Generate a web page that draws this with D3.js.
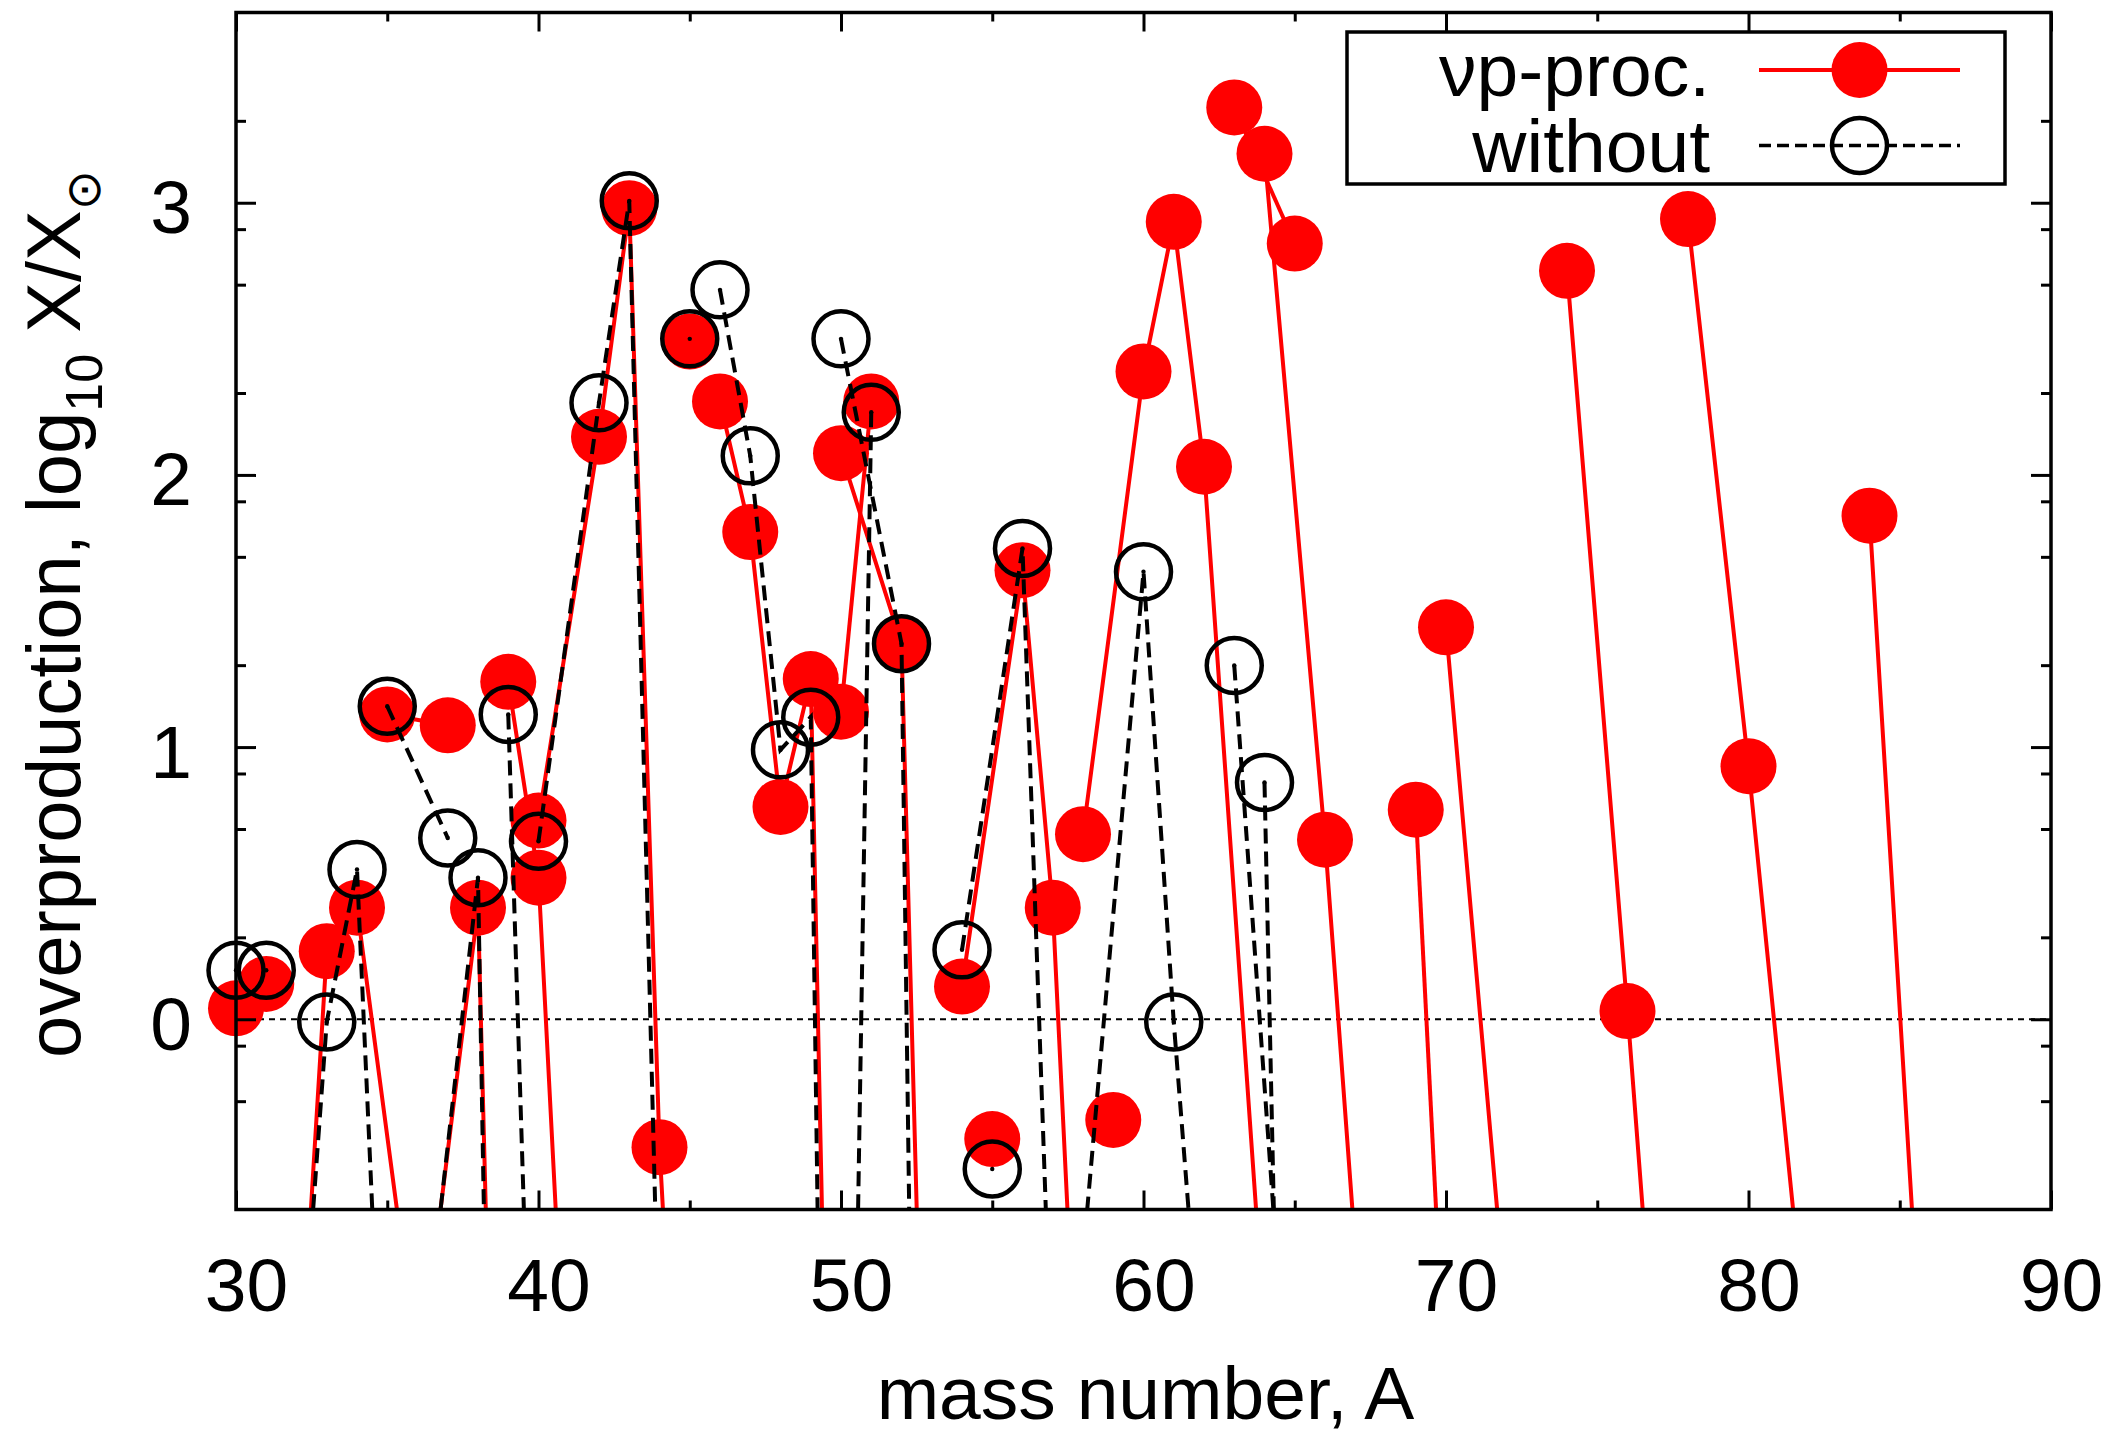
<!DOCTYPE html>
<html>
<head>
<meta charset="utf-8">
<script src="https://cdn.jsdelivr.net/npm/d3@7"></script>
<style>
body { margin: 0; background: #fff; }
svg { display: block; font-family: "Liberation Sans", Arial, Helvetica, sans-serif; }
</style>
</head>
<body>
<svg id="chart"></svg>
<script>
// nu-p process run: log10 overproduction per stable isotope
const vpElement = ["Si","P","S","S","S","S","Cl","Cl","Ar","Ar","Ar","K","K","K",
	"Ca","Ca","Ca","Ca","Ca","Ca","Sc","Ti","Ti","Ti","Ti","Ti","V","V","Cr","Cr","Cr","Cr",
	"Mn","Fe","Fe","Fe","Fe","Co","Ni","Ni","Ni","Ni","Ni","Cu","Cu","Zn","Zn","Zn","Zn","Zn",
	"Ga","Ga","Ge","Ge","Ge","Ge","Ge","Se","Se","Se","Se","Se","Se","Kr","Kr","Kr","Kr","Kr","Kr",
	"Sr","Sr","Sr","Sr"];
const vpMass = [30,31,32,33,34,36,35,37,36,38,40,39,40,41,
	40,42,43,44,46,48,45,46,47,48,49,50,50,51,50,52,53,54,
	55,54,56,57,58,59,58,60,61,62,64,63,65,64,66,67,68,70,
	69,71,70,72,73,74,76,74,76,77,78,80,82,78,80,82,83,84,86,
	84,86,87,88];
const vpValue = [0.04,0.13,-1.56,0.25,0.41,-1.27,1.12,1.08,-1.38,0.41,-8.2,1.24,0.52,-1.62,
	0.73,2.14,2.98,-0.47,-4.5,-3.0,2.49,2.27,1.79,0.78,1.25,-4.0,1.13,2.27,2.08,1.38,-2.75,-2.0,
	-0.44,0.12,1.65,0.41,-1.87,-0.37,0.68,2.38,2.93,2.03,-1.14,3.35,2.85,3.18,0.66,-0.84,-1.5,-2.6,
	0.77,-3.6,1.44,-1.09,-1.6,-1.3,-2.2,2.75,0.03,-1.42,-1.6,-2.0,-3.0,2.94,0.93,-1.28,-1.6,-1.3,-2.4,
	1.85,-1.78,-2.2,-2.0];

// run without neutrinos
const woElement = ["Si","P","S","S","S","S","Cl","Cl","Ar","Ar","Ar","K","K","K",
	"Ca","Ca","Ca","Ca","Ca","Ca","Sc","Ti","Ti","Ti","Ti","Ti","V","V","Cr","Cr","Cr",
	"Mn","Fe","Fe","Fe","Fe","Ni","Ni","Ni","Ni","Cu","Cu","Zn","Zn"];
const woMass = [30,31,32,33,34,36,35,37,36,38,40,39,40,41,
	40,42,43,44,46,48,45,46,47,48,49,50,50,51,50,52,53,
	55,54,56,57,58,58,60,61,62,63,65,64,66];
const woValue = [0.18,0.18,-1.54,-0.01,0.55,-4.4,1.15,0.666,-1.45,0.52,-12,1.12,-2.4,-3.0,
	0.654,2.265,3.007,-1.3,-4.0,-4.0,2.5,2.68,2.07,0.99,1.11,-6.9,-4.5,2.23,2.5,1.38,-6.8,
	-0.55,0.255,1.73,-1.42,-2.5,-0.875,1.644,-0.01,-1.42,1.30,-1.79,0.87,-9.3];

const xTicks = [30,40,50,60,70,80,90];
const xMinorTicks = [35,45,55,65,75,85];
const yTicks = [0,1,2,3];
const yMinorTicks = [-0.301,-0.097,0.301,0.699,0.903,1.301,1.699,1.903,2.301,2.699,2.903,3.301];
const legendLabels = ["\u03bdp-proc.","without"];

const width = 2116, height = 1437;
const margin = {left: 236, right: 65, top: 12.5, bottom: 227.5};
const plotW = width - margin.left - margin.right;
const plotH = height - margin.top - margin.bottom;

let svg = d3.select("#chart")
	.attr("width", width)
	.attr("height", height);

let x = d3.scaleLinear().domain([30, 90]).range([margin.left, margin.left + plotW]);
let y = d3.scaleLinear().domain([Math.log10(0.2), Math.log10(5000)])
	.range([margin.top + plotH, margin.top]);

svg.append("defs").append("clipPath").attr("id", "plotclip")
	.append("rect")
	.attr("x", margin.left).attr("y", margin.top)
	.attr("width", plotW).attr("height", plotH);

// zero line
svg.append("line")
	.attr("x1", x(30)).attr("x2", x(90))
	.attr("y1", y(0)).attr("y2", y(0))
	.attr("stroke", "#000").attr("stroke-width", 2)
	.attr("stroke-dasharray", "6,5");

function rows(el, A, v) {
	return el.map((e, i) => ({el: e, A: A[i], v: v[i]}));
}
let vpData = rows(vpElement, vpMass, vpValue);
let woData = rows(woElement, woMass, woValue);
let [yLo, yHi] = y.domain();
let inside = (d) => d.v >= yLo && d.v <= yHi && d.A >= 30 && d.A <= 90;

let line = d3.line().x((d) => x(d.A)).y((d) => y(d.v));

function chains(data) {
	return Array.from(d3.group(data, (d) => d.el).values())
		.map((c) => c.slice().sort((a, b) => a.A - b.A));
}

// nu-p: red solid + filled circles
let gvp = svg.append("g");
gvp.append("g").attr("clip-path", "url(#plotclip)")
	.selectAll("path")
	.data(chains(vpData).filter((c) => c.length > 1))
	.enter().append("path")
	.attr("d", line)
	.attr("fill", "none")
	.attr("stroke", "#ff0000")
	.attr("stroke-width", 4)
	.attr("stroke-linejoin", "round");
gvp.selectAll("circle")
	.data(vpData.filter(inside))
	.enter().append("circle")
	.attr("cx", (d) => x(d.A))
	.attr("cy", (d) => y(d.v))
	.attr("r", 28)
	.attr("fill", "#ff0000");

// without: black dashed + open circles
let gwo = svg.append("g");
gwo.append("g").attr("clip-path", "url(#plotclip)")
	.selectAll("path")
	.data(chains(woData).filter((c) => c.length > 1))
	.enter().append("path")
	.attr("d", line)
	.attr("fill", "none")
	.attr("stroke", "#000")
	.attr("stroke-width", 4)
	.attr("stroke-dasharray", "15,8");
gwo.selectAll("circle.ring")
	.data(woData.filter(inside))
	.enter().append("circle")
	.attr("class", "ring")
	.attr("cx", (d) => x(d.A))
	.attr("cy", (d) => y(d.v))
	.attr("r", 27.5)
	.attr("fill", "none")
	.attr("stroke", "#000")
	.attr("stroke-width", 4.5);
gwo.selectAll("circle.dot")
	.data(woData.filter(inside))
	.enter().append("circle")
	.attr("class", "dot")
	.attr("cx", (d) => x(d.A))
	.attr("cy", (d) => y(d.v))
	.attr("r", 2.2)
	.attr("fill", "#000");

// axes, ticks pointing inwards on all four sides
function styleAxis(g) {
	g.select(".domain").remove();
	g.selectAll(".tick line").attr("stroke", "#000").attr("stroke-width", 3);
	g.selectAll("text")
		.attr("fill", "#000")
		.style("font-size", "75px")
		.style("font-family", "\"Liberation Sans\", Arial, Helvetica, sans-serif");
}
let bottomY = margin.top + plotH, topY = margin.top;
let leftX = margin.left, rightX = margin.left + plotW;

svg.append("g").attr("transform", `translate(0,${bottomY})`)
	.call(d3.axisBottom(x).tickValues(xTicks).tickSize(-19).tickPadding(48).tickFormat(d3.format("d")))
	.call(styleAxis)
	.call((g) => g.selectAll("text").attr("dx", 10));
svg.append("g").attr("transform", `translate(0,${bottomY})`)
	.call(d3.axisBottom(x).tickValues(xMinorTicks).tickSize(-9).tickFormat(""))
	.call(styleAxis);
svg.append("g").attr("transform", `translate(0,${topY})`)
	.call(d3.axisTop(x).tickValues(xTicks).tickSize(-19).tickFormat(""))
	.call(styleAxis);
svg.append("g").attr("transform", `translate(0,${topY})`)
	.call(d3.axisTop(x).tickValues(xMinorTicks).tickSize(-9).tickFormat(""))
	.call(styleAxis);

svg.append("g").attr("transform", `translate(${leftX},0)`)
	.call(d3.axisLeft(y).tickValues(yTicks).tickSize(-20).tickPadding(44).tickFormat(d3.format("d")))
	.call(styleAxis)
	.call((g) => g.selectAll("text").attr("dy", "0.4em"));
svg.append("g").attr("transform", `translate(${leftX},0)`)
	.call(d3.axisLeft(y).tickValues(yMinorTicks).tickSize(-10).tickFormat(""))
	.call(styleAxis);
svg.append("g").attr("transform", `translate(${rightX},0)`)
	.call(d3.axisRight(y).tickValues(yTicks).tickSize(-20).tickFormat(""))
	.call(styleAxis);
svg.append("g").attr("transform", `translate(${rightX},0)`)
	.call(d3.axisRight(y).tickValues(yMinorTicks).tickSize(-10).tickFormat(""))
	.call(styleAxis);

svg.append("rect")
	.attr("x", leftX).attr("y", topY)
	.attr("width", plotW).attr("height", plotH)
	.attr("fill", "none").attr("stroke", "#000").attr("stroke-width", 3.5);

// axis titles
svg.append("text")
	.attr("x", (leftX + rightX) / 2 + 2)
	.attr("y", 1419)
	.attr("text-anchor", "middle")
	.style("font-size", "75px")
	.text("mass number, A");

let ylab = svg.append("text")
	.attr("transform", `translate(80,${(topY + bottomY) / 2 + 3}) rotate(-90)`)
	.attr("text-anchor", "middle")
	.style("font-size", "76px");
ylab.append("tspan").text("overproduction, log");
ylab.append("tspan").attr("dy", 22).style("font-size", "52px").text("10");
ylab.append("tspan").attr("dy", -22).text(" X/X");
ylab.append("tspan").attr("dy", 20).style("font-size", "48px")
	.style("font-family", "\"DejaVu Sans\", sans-serif").text("\u2299");

// legend
let leg = svg.append("g");
leg.append("rect")
	.attr("x", 1347).attr("y", 32)
	.attr("width", 658).attr("height", 152)
	.attr("fill", "#fff").attr("stroke", "#000").attr("stroke-width", 3.5);
let legRows = [
	{label: legendLabels[0], base: 96, ly: 70, color: "#ff0000", dash: null, filled: true},
	{label: legendLabels[1], base: 172, ly: 145.5, color: "#000", dash: "12,6", filled: false}
];
legRows.forEach(function(r) {
	leg.append("text")
		.attr("x", 1710).attr("y", r.base)
		.attr("text-anchor", "end")
		.style("font-size", "75px")
		.text(r.label);
	leg.append("line")
		.attr("x1", 1759).attr("x2", 1960)
		.attr("y1", r.ly).attr("y2", r.ly)
		.attr("stroke", r.color).attr("stroke-width", r.filled ? 4 : 3.5)
		.attr("stroke-dasharray", r.dash);
	leg.append("circle")
		.attr("cx", 1859.5).attr("cy", r.ly)
		.attr("r", r.filled ? 28 : 27.5)
		.attr("fill", r.filled ? "#ff0000" : "none")
		.attr("stroke", r.filled ? "none" : "#000")
		.attr("stroke-width", 4.5);
});
</script>
</body>
</html>
